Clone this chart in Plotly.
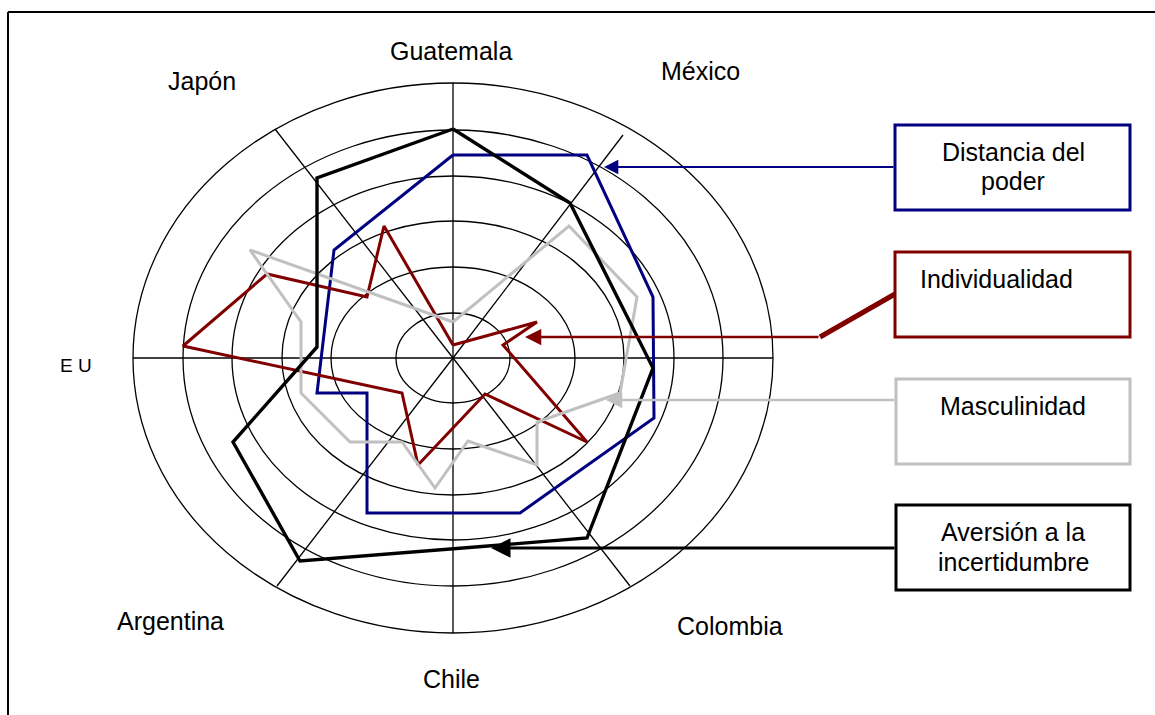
import plotly.graph_objects as go

# ---------------- data ----------------
# country (axis) labels of the diagram
categories = ["Guatemala", "México", "Japón", "E U", "Argentina", "Chile", "Colombia"]

# series names (legend boxes)
series_names = ["Distancia del poder", "Individualidad", "Masculinidad",
                "Aversión a la incertidumbre"]

# polygon vertices of each series (diagram units, centre = 0,0)
dist_x = [0, 134, 200, 201, 67, -86, -86, -136, -119, 0]
dist_y = [203, 203, 61, -60, -155, -155, -35, -35, 108, 203]

indiv_x = [0, 84, 50, 134, 32, -35, -51, -270, -186, -86, -69, 0]
indiv_y = [13, 36, 13, -84, -36, -107, -35, 12, 84, 61, 132, 13]

masc_x = [0, 116, 184, 167, 84, 84, 15, -18, -51, -103, -152, -152, -203, 0]
masc_y = [36, 132, 61, -35, -64, -107, -83, -130, -84, -84, -35, 36, 108, 36]

avers_x = [0, 117, 200, 134, -153, -220, -136, -136, 0]
avers_y = [229, 155, -10, -180, -203, -84, 11, 180, 229]

# ---------------- figure ----------------
W, H = 1155, 715
CX, CY = 453, 358  # pixel position of the centre


def X(px):
    return px - CX


def Y(py):
    return CY - py


fig = go.Figure()

colors = ["#000080", "#800000", "#C0C0C0", "#000000"]
xs = [dist_x, indiv_x, masc_x, avers_x]
ys = [dist_y, indiv_y, masc_y, avers_y]
widths = [3, 3, 3, 3.4]
for name, x, y, c, w in zip(series_names, xs, ys, colors, widths):
    fig.add_trace(go.Scatter(x=x, y=y, mode="lines", name=name,
                             line=dict(color=c, width=w), hoverinfo="skip"))

shapes = []
# concentric ellipses
ring_rx = [57, 122, 171, 221, 270, 320]
ring_ry = [45, 91, 137, 182, 228, 275]
for rx, ry in zip(ring_rx, ring_ry):
    shapes.append(dict(type="circle", xref="x", yref="y", x0=-rx, x1=rx, y0=-ry, y1=ry,
                       line=dict(color="black", width=1.3), layer="below"))
# spokes
spokes = [(0, 275, 0, -275), (-320, 0, 320, 0), (0, 0, -178, 229), (0, 0, 170, 223),
          (0, 0, -176, -228), (0, 0, 177, -228)]
for x0, y0, x1, y1 in spokes:
    shapes.append(dict(type="line", xref="x", yref="y", x0=x0, y0=y0, x1=x1, y1=y1,
                       line=dict(color="black", width=1.3), layer="below"))

# legend boxes
boxes = [(895, 125, 1130, 210, "#000080"), (895, 252, 1130, 337, "#800000"),
         (896, 379, 1130, 464, "#C0C0C0"), (896, 505, 1130, 590, "#000000")]
for x0, y0, x1, y1, c in boxes:
    shapes.append(dict(type="rect", xref="x", yref="y", x0=X(x0), x1=X(x1), y0=Y(y0), y1=Y(y1),
                       line=dict(color=c, width=3), fillcolor="rgba(0,0,0,0)"))

# thick connector of the Individualidad box
shapes.append(dict(type="line", xref="x", yref="y", x0=X(820), y0=Y(337), x1=X(895), y1=Y(294),
                   line=dict(color="#800000", width=5)))

# outer frame (left and top)
shapes.append(dict(type="line", xref="paper", yref="paper", x0=8 / W, x1=8 / W, y0=0, y1=1 - 12 / H,
                   line=dict(color="black", width=2)))
shapes.append(dict(type="line", xref="paper", yref="paper", x0=8 / W, x1=1, y0=1 - 12 / H, y1=1 - 12 / H,
                   line=dict(color="black", width=2)))

annotations = []
FONT = "Liberation Sans, Arial, sans-serif"

# country labels
label_pos = [(451, 51, 25), (700, 71, 25), (202, 81, 25), (76, 365, 19),
             (170, 621, 25), (451, 679, 25), (730, 626, 25)]
for txt, (px, py, fs) in zip(categories, label_pos):
    annotations.append(dict(x=X(px), y=Y(py), xref="x", yref="y", text=txt, showarrow=False,
                            xanchor="center", yanchor="middle",
                            font=dict(family=FONT, size=fs, color="black")))

# legend texts
legend_txt = [("Distancia del", 1013, 152, "center"), ("poder", 1013, 181, "center"),
              ("Individualidad", 918, 279, "left"), ("Masculinidad", 1013, 406, "center"),
              ("Aversión a la", 1013, 532, "center"), ("incertidumbre", 1013, 562, "center")]
for txt, px, py, anc in legend_txt:
    annotations.append(dict(x=X(px), y=Y(py), xref="x", yref="y", text=txt, showarrow=False,
                            xanchor=anc, yanchor="middle",
                            font=dict(family=FONT, size=25, color="black")))

# arrows from the legend boxes
arrows = [(604, 167, 895, 167, "#000080", 2.2), (525, 337, 820, 337, "#800000", 2.5),
          (606, 400, 896, 400, "#C0C0C0", 2.5), (491, 548, 896, 548, "#000000", 3)]
for tx, ty, sx, sy, c, w in arrows:
    annotations.append(dict(x=X(tx), y=Y(ty), ax=X(sx), ay=Y(sy), xref="x", yref="y",
                            axref="x", ayref="y", text="", showarrow=True, arrowhead=2,
                            arrowsize=1.3, arrowwidth=w, arrowcolor=c, standoff=0))

fig.update_layout(
    width=W, height=H, autosize=False,
    margin=dict(l=0, r=0, t=0, b=0, pad=0),
    paper_bgcolor="white", plot_bgcolor="white",
    showlegend=False,
    xaxis=dict(range=[X(0), X(W)], visible=False, fixedrange=True),
    yaxis=dict(range=[Y(H), Y(0)], visible=False, fixedrange=True),
    shapes=shapes, annotations=annotations,
)

fig.write_html("out.html")
